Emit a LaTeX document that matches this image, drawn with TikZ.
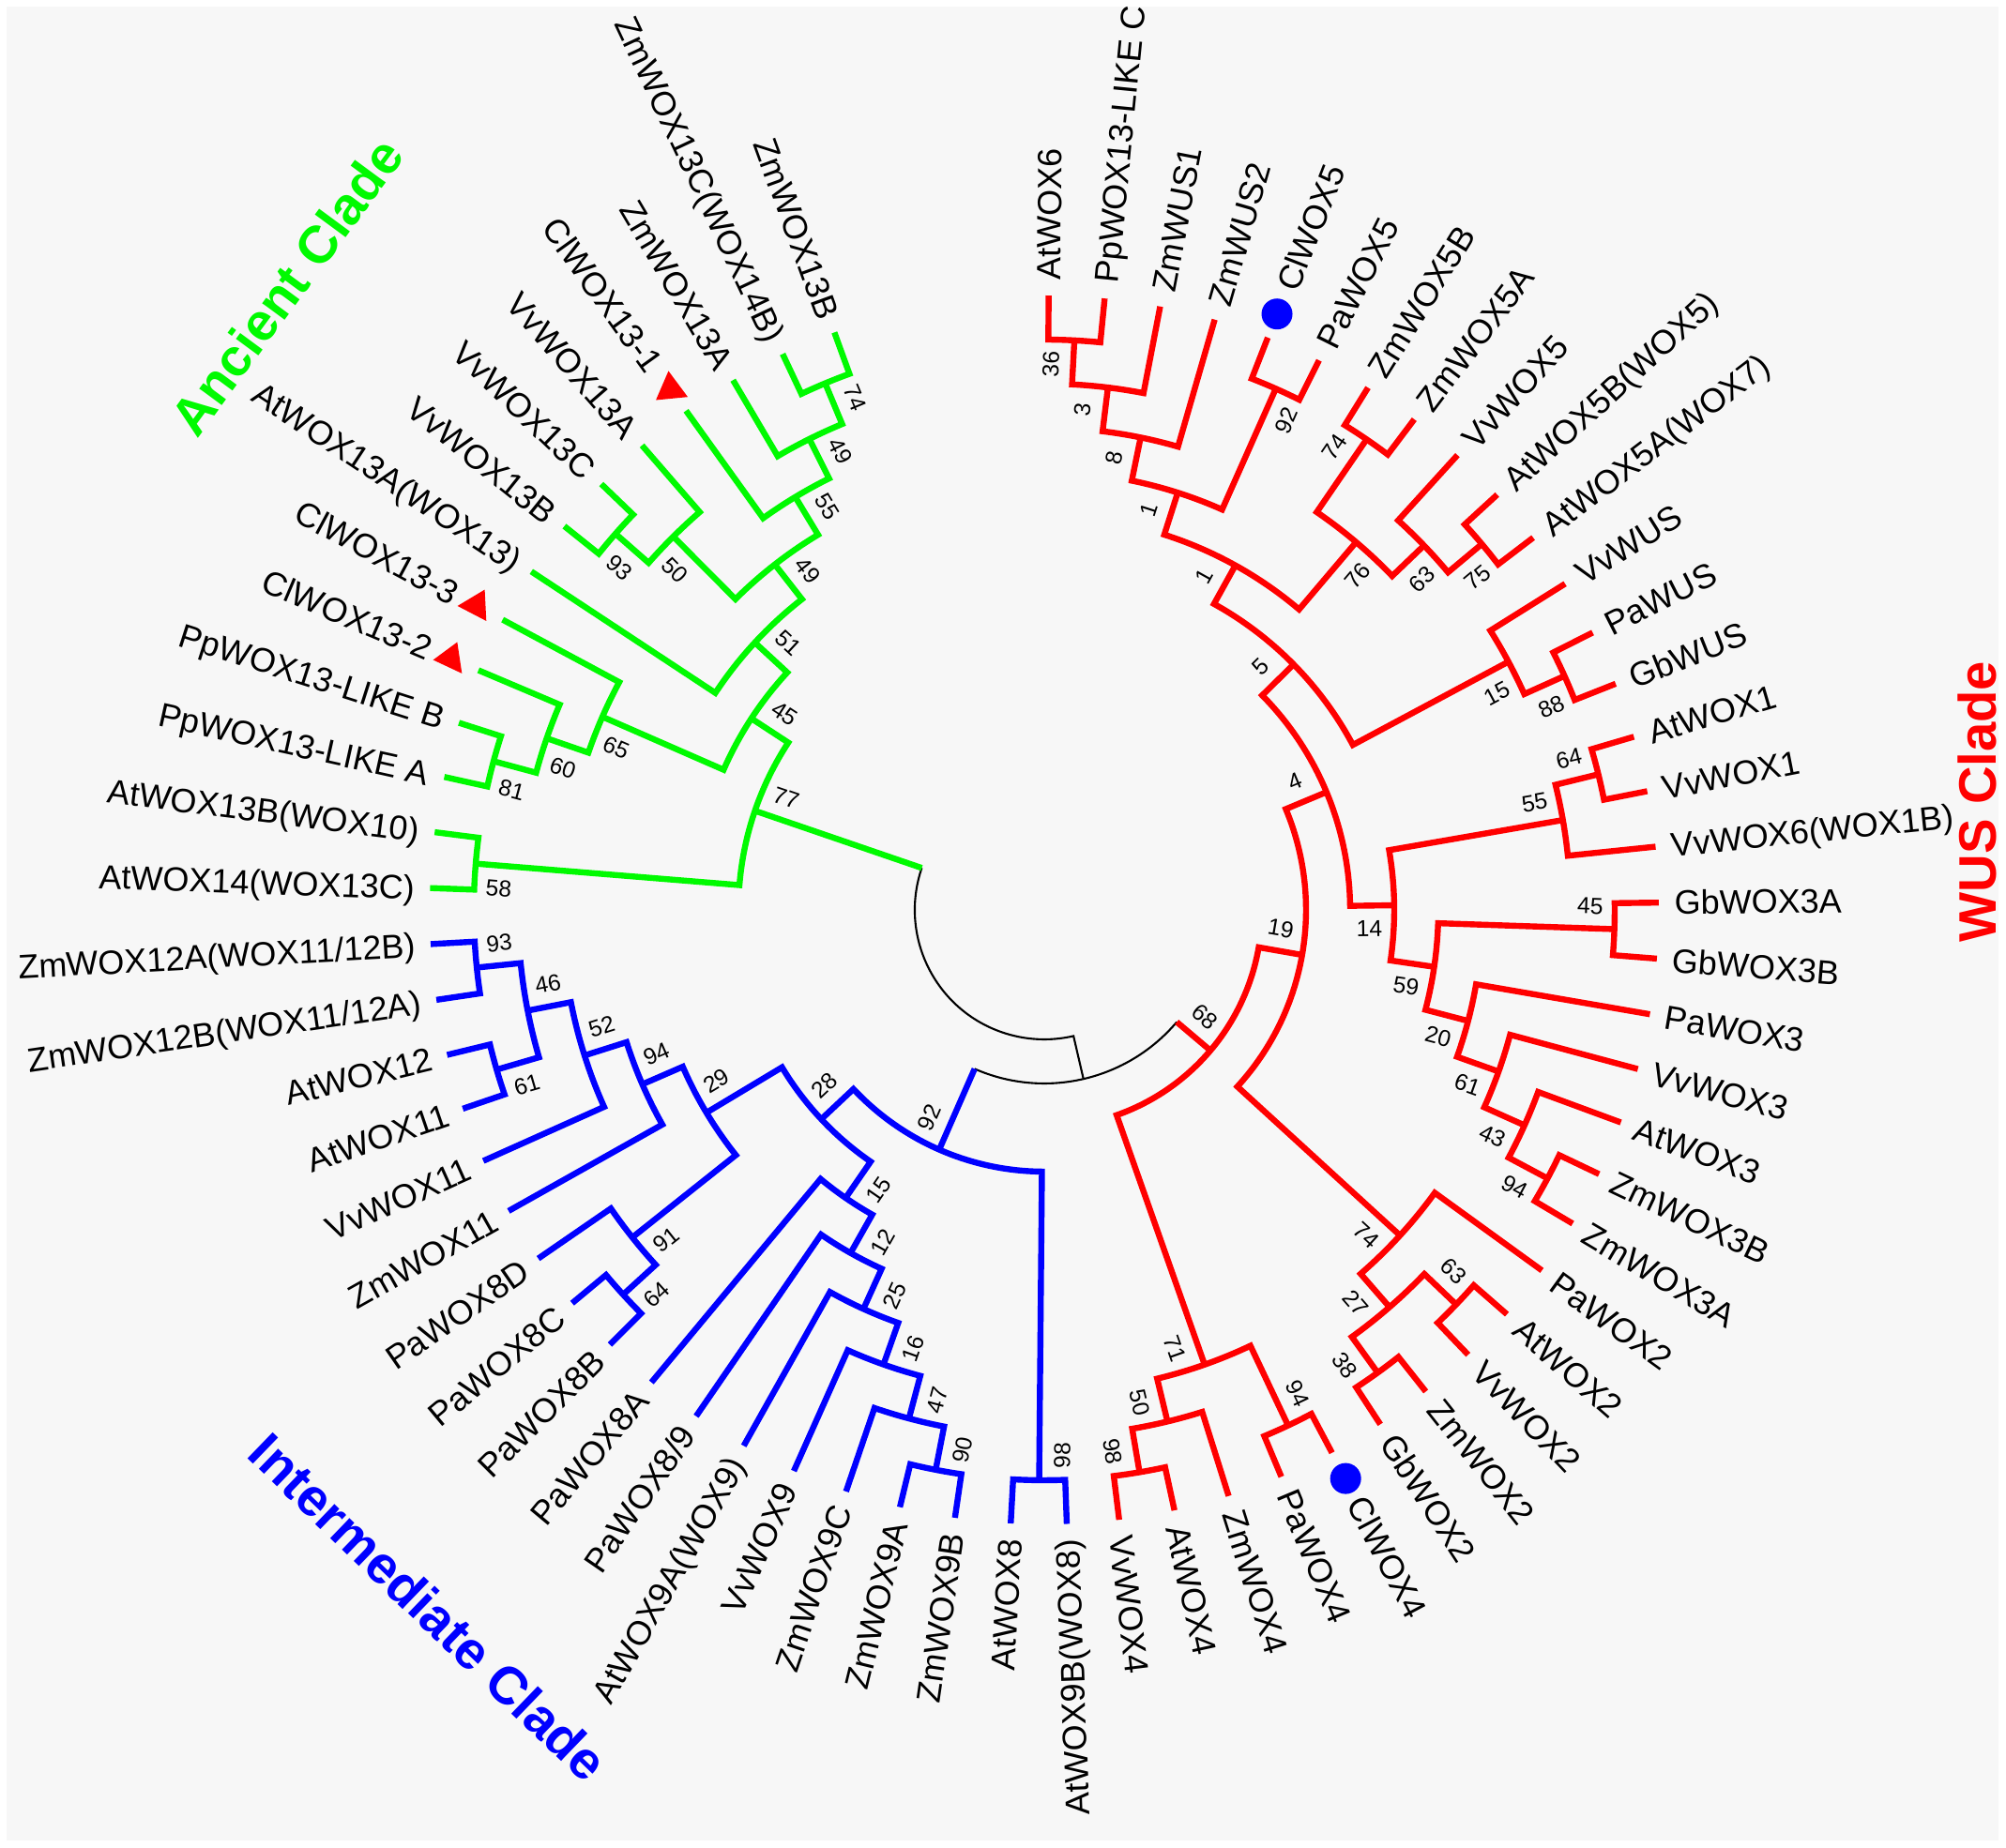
\documentclass[tikz,border=0pt]{standalone}
\usepackage{fontspec}
\setmainfont{Liberation Sans}
\definecolor{cgreen}{RGB}{0,250,0}
\definecolor{cred}{RGB}{255,0,0}
\definecolor{cblue}{RGB}{0,0,255}
\definecolor{bgg}{RGB}{247,247,247}
\tikzset{
  branch/.style={line width=0.064cm, line join=miter},
  rootline/.style={line width=0.6pt, draw=black},
  leaflab/.style={font=\fontsize{10.25}{12}\selectfont, inner sep=0pt, text height=7.35pt, text depth=0pt},
  bslab/.style={font=\fontsize{7}{8}\selectfont, inner sep=0pt, text height=5pt, text depth=0pt, anchor=center},
  cladelab/.style={font=\bfseries\fontsize{16}{19}\selectfont, inner sep=0pt, text height=11.5pt, text depth=0pt, anchor=center},
}
\newcommand\GetA[1]{\csname wA-#1\endcsname}
\newcommand\GetR[1]{\csname wR-#1\endcsname}
\def\wside{1}
% leaf: id, index, text, marker (0 none, 1 triangle, 2 circle)
\newcommand\Leaf[4]{%
  \pgfmathsetmacro\wxa{(#2<32) ? (272.1-5.23*#2) : (256.95-5.23*#2)}%
  \expandafter\xdef\csname wA-#1\endcsname{\wxa}%
  \expandafter\xdef\csname wR-#1\endcsname{6.55}%
  \expandafter\xdef\csname wH-#1\endcsname{0}%
  \pgfmathsetmacro\wlr{(#4>0) ? 7.10 : 6.71}%
  \ifnum#2<32\relax
    \pgfmathsetmacro\wlrot{\wxa-180}%
    \node[leaflab, rotate=\wlrot, anchor=east] (#1) at (\wxa:\wlr) {#3};%
  \else
    \node[leaflab, rotate=\wxa, anchor=west] (#1) at (\wxa:\wlr) {#3};%
  \fi}
\newcommand\PutLab[2]{%
  \ifnum\csname wH-#1\endcsname=1\relax
    \pgfmathsetmacro\wla{\GetA{#1}}%
    \pgfmathsetmacro\wlo{\GetA{#2}}%
    \pgfmathsetmacro\wlr{\GetR{#1}-0.26}%
    \pgfmathsetmacro\wlp{\wla+((\wla>\wlo)?1:-1)*deg(0.24/\wlr)}%
    \pgfmathsetmacro\wlrot{(\wside>0) ? \wla : \wla-180}%
    \node[bslab, rotate=\wlrot] (lab-#1) at (\wlp:\wlr) {\csname wL-#1\endcsname};%
  \fi}
% clade: name, child a, child b, level, colour, bootstrap
\newcommand\Clade[6]{%
  \pgfmathsetmacro\wxa{\GetA{#2}}%
  \pgfmathsetmacro\wxb{\GetA{#3}}%
  \pgfmathsetmacro\wra{\GetR{#2}}%
  \pgfmathsetmacro\wrb{\GetR{#3}}%
  \pgfmathsetmacro\wrn{6.55-0.47*#4}%
  \pgfmathsetmacro\wan{(\wxa+\wxb)/2}%
  \expandafter\xdef\csname wA-#1\endcsname{\wan}%
  \expandafter\xdef\csname wR-#1\endcsname{\wrn}%
  \expandafter\xdef\csname wH-#1\endcsname{1}%
  \expandafter\gdef\csname wL-#1\endcsname{#6}%
  \draw[branch,#5] (\wxa:\wra) -- (\wxa:\wrn) arc[start angle=\wxa, end angle=\wxb, radius=\wrn] -- (\wxb:\wrb);
  \PutLab{#2}{#3}\PutLab{#3}{#2}%
}
\begin{document}
\begin{tikzpicture}
\useasboundingbox (-11.13,-10.00) rectangle (10.25,9.70);
\fill[white] (-11.13,-10.00) rectangle (10.25,9.70);
\fill[bgg] (-11.06,-9.92) rectangle (10.17,9.63);

% ---------- leaves ----------
\Leaf{L0}{0}{AtWOX9B(WOX8)}{0}
\Leaf{L1}{1}{AtWOX8}{0}
\Leaf{L2}{2}{ZmWOX9B}{0}
\Leaf{L3}{3}{ZmWOX9A}{0}
\Leaf{L4}{4}{ZmWOX9C}{0}
\Leaf{L5}{5}{VvWOX9}{0}
\Leaf{L6}{6}{AtWOX9A(WOX9)}{0}
\Leaf{L7}{7}{PaWOX8/9}{0}
\Leaf{L8}{8}{PaWOX8A}{0}
\Leaf{L9}{9}{PaWOX8B}{0}
\Leaf{L10}{10}{PaWOX8C}{0}
\Leaf{L11}{11}{PaWOX8D}{0}
\Leaf{L12}{12}{ZmWOX11}{0}
\Leaf{L13}{13}{VvWOX11}{0}
\Leaf{L14}{14}{AtWOX11}{0}
\Leaf{L15}{15}{AtWOX12}{0}
\Leaf{L16}{16}{ZmWOX12B(WOX11/12A)}{0}
\Leaf{L17}{17}{ZmWOX12A(WOX11/12B)}{0}
\Leaf{L18}{18}{AtWOX14(WOX13C)}{0}
\Leaf{L19}{19}{AtWOX13B(WOX10)}{0}
\Leaf{L20}{20}{PpWOX13-LIKE A}{0}
\Leaf{L21}{21}{PpWOX13-LIKE B}{0}
\Leaf{L22}{22}{ClWOX13-2}{1}
\Leaf{L23}{23}{ClWOX13-3}{1}
\Leaf{L24}{24}{AtWOX13A(WOX13)}{0}
\Leaf{L25}{25}{VvWOX13B}{0}
\Leaf{L26}{26}{VvWOX13C}{0}
\Leaf{L27}{27}{VvWOX13A}{0}
\Leaf{L28}{28}{ClWOX13-1}{1}
\Leaf{L29}{29}{ZmWOX13A}{0}
\Leaf{L30}{30}{ZmWOX13C(WOX14B)}{0}
\Leaf{L31}{31}{ZmWOX13B}{0}
\Leaf{L32}{32}{AtWOX6}{0}
\Leaf{L33}{33}{PpWOX13-LIKE C}{0}
\Leaf{L34}{34}{ZmWUS1}{0}
\Leaf{L35}{35}{ZmWUS2}{0}
\Leaf{L36}{36}{ClWOX5}{2}
\Leaf{L37}{37}{PaWOX5}{0}
\Leaf{L38}{38}{ZmWOX5B}{0}
\Leaf{L39}{39}{ZmWOX5A}{0}
\Leaf{L40}{40}{VvWOX5}{0}
\Leaf{L41}{41}{AtWOX5B(WOX5)}{0}
\Leaf{L42}{42}{AtWOX5A(WOX7)}{0}
\Leaf{L43}{43}{VvWUS}{0}
\Leaf{L44}{44}{PaWUS}{0}
\Leaf{L45}{45}{GbWUS}{0}
\Leaf{L46}{46}{AtWOX1}{0}
\Leaf{L47}{47}{VvWOX1}{0}
\Leaf{L48}{48}{VvWOX6(WOX1B)}{0}
\Leaf{L49}{49}{GbWOX3A}{0}
\Leaf{L50}{50}{GbWOX3B}{0}
\Leaf{L51}{51}{PaWOX3}{0}
\Leaf{L52}{52}{VvWOX3}{0}
\Leaf{L53}{53}{AtWOX3}{0}
\Leaf{L54}{54}{ZmWOX3B}{0}
\Leaf{L55}{55}{ZmWOX3A}{0}
\Leaf{L56}{56}{PaWOX2}{0}
\Leaf{L57}{57}{AtWOX2}{0}
\Leaf{L58}{58}{VvWOX2}{0}
\Leaf{L59}{59}{ZmWOX2}{0}
\Leaf{L60}{60}{GbWOX2}{0}
\Leaf{L61}{61}{ClWOX4}{2}
\Leaf{L62}{62}{PaWOX4}{0}
\Leaf{L63}{63}{ZmWOX4}{0}
\Leaf{L64}{64}{AtWOX4}{0}
\Leaf{L65}{65}{VvWOX4}{0}

% ---------- intermediate clade (blue) ----------
\def\wside{-1}
\Clade{nb98}{L0}{L1}{1}{cblue}{98}
\Clade{nb90}{L3}{L2}{1}{cblue}{90}
\Clade{nb47}{L4}{nb90}{2}{cblue}{47}
\Clade{nb16}{L5}{nb47}{3}{cblue}{16}
\Clade{nb25}{L6}{nb16}{4}{cblue}{25}
\Clade{nb12}{L7}{nb25}{5}{cblue}{12}
\Clade{nb15}{L8}{nb12}{6}{cblue}{15}
\Clade{nb64}{L10}{L9}{1}{cblue}{64}
\Clade{nb91}{L11}{nb64}{2}{cblue}{91}
\Clade{nb93}{L17}{L16}{1}{cblue}{93}
\Clade{nb61}{L15}{L14}{1}{cblue}{61}
\Clade{nb46}{nb93}{nb61}{2}{cblue}{46}
\Clade{nb52}{nb46}{L13}{3}{cblue}{52}
\Clade{nb94}{nb52}{L12}{4}{cblue}{94}
\Clade{nb29}{nb94}{nb91}{5}{cblue}{29}
\Clade{nb28}{nb29}{nb15}{7}{cblue}{28}
\Clade{nb92}{nb28}{nb98}{8}{cblue}{92}

% ---------- ancient clade (green) ----------
\def\wside{-1}
\Clade{ng74}{L31}{L30}{1}{cgreen}{74}
\Clade{ng49a}{ng74}{L29}{2}{cgreen}{49}
\Clade{ng55}{ng49a}{L28}{3}{cgreen}{55}
\Clade{ng93}{L25}{L26}{1}{cgreen}{93}
\Clade{ng50}{ng93}{L27}{2}{cgreen}{50}
\Clade{ng49b}{ng55}{ng50}{4}{cgreen}{49}
\Clade{ng51}{L24}{ng49b}{5}{cgreen}{51}
\Clade{ng81}{L20}{L21}{1}{cgreen}{81}
\Clade{ng60}{ng81}{L22}{2}{cgreen}{60}
\Clade{ng65}{ng60}{L23}{3}{cgreen}{65}
\Clade{ng45}{ng51}{ng65}{6}{cgreen}{45}
\Clade{ng58}{L18}{L19}{1}{cgreen}{58}
\Clade{ng77}{ng45}{ng58}{7}{cgreen}{77}

% ---------- WUS clade (red) ----------
\def\wside{1}
\Clade{nr36}{L32}{L33}{1}{cred}{36}
\Clade{nr3}{nr36}{L34}{2}{cred}{3}
\Clade{nr8}{nr3}{L35}{3}{cred}{8}
\Clade{nr92}{L36}{L37}{1}{cred}{92}
\Clade{nr1a}{nr8}{nr92}{4}{cred}{1}
\Clade{nr74}{L38}{L39}{1}{cred}{74}
\Clade{nr75}{L41}{L42}{1}{cred}{75}
\Clade{nr63}{L40}{nr75}{2}{cred}{63}
\Clade{nr76}{nr74}{nr63}{3}{cred}{76}
\Clade{nr1b}{nr1a}{nr76}{5}{cred}{1}
\Clade{nr88}{L44}{L45}{1}{cred}{88}
\Clade{nr15}{L43}{nr88}{2}{cred}{15}
\Clade{nr5}{nr1b}{nr15}{6}{cred}{5}
\Clade{nr64}{L46}{L47}{1}{cred}{64}
\Clade{nr55}{nr64}{L48}{2}{cred}{55}
\Clade{nr45}{L49}{L50}{1}{cred}{45}
\Clade{nr94}{L54}{L55}{1}{cred}{94}
\Clade{nr43}{L53}{nr94}{2}{cred}{43}
\Clade{nr61}{L52}{nr43}{3}{cred}{61}
\Clade{nr20}{L51}{nr61}{4}{cred}{20}
\Clade{nr59}{nr45}{nr20}{5}{cred}{59}
\Clade{nr14}{nr55}{nr59}{6}{cred}{14}
\Clade{nr4}{nr5}{nr14}{7}{cred}{4}
\Clade{nr63b}{L57}{L58}{1}{cred}{63}
\Clade{nr38}{L59}{L60}{1}{cred}{38}
\Clade{nr27}{nr63b}{nr38}{2}{cred}{27}
\Clade{nr74b}{L56}{nr27}{3}{cred}{74}
\Clade{nr19}{nr4}{nr74b}{8}{cred}{19}
\Clade{nr98}{L65}{L64}{1}{cred}{98}
\Clade{nr50}{nr98}{L63}{2}{cred}{50}
\Clade{nr94b}{L62}{L61}{1}{cred}{94}
\Clade{nr71}{nr50}{nr94b}{3}{cred}{71}
\Clade{nr68}{nr19}{nr71}{9}{cred}{68}

% ---------- root ----------
\pgfmathsetmacro\wgA{\GetA{ng77}}
\pgfmathsetmacro\wbA{\GetA{nb92}}
\pgfmathsetmacro\wrA{\GetA{nr68}+360}
\pgfmathsetmacro\wxA{(\wbA+\wrA)/2}
\draw[rootline] (\wgA:1.38) arc[start angle=\wgA, end angle=\wxA, radius=1.38] -- (\wxA:1.85);
\draw[rootline] (\wbA:1.85) arc[start angle=\wbA, end angle=\wrA, radius=1.85];
\draw[branch,cgreen] (\wgA:1.38) -- (\wgA:3.26);
\draw[branch,cblue] (\wbA:1.85) -- (\wbA:2.79);
\draw[branch,cred] (\wrA:1.85) -- (\wrA:2.32);
\pgfmathsetmacro\wp{\wgA-deg(0.24/3.0)}
\pgfmathsetmacro\wq{\wgA-180}
\node[bslab, rotate=\wq] (lab-ng77) at (\wp:3.0) {77};
\pgfmathsetmacro\wp{\wbA-deg(0.24/2.53)}
\pgfmathsetmacro\wq{\wbA-180}
\node[bslab, rotate=\wq] (lab-nb92) at (\wp:2.53) {92};
\pgfmathsetmacro\wp{\wrA+deg(0.24/2.06)}
\node[bslab, rotate=\wrA] (lab-nr68) at (\wp:2.06) {68};

% ---------- markers ----------
\pgfmathsetmacro\wt{\GetA{L28}}
\begin{scope}[shift={(\wt:6.83)}]
  \fill[cred] (-0.024,0.196) -- (-0.158,-0.114) -- (0.182,-0.081) -- cycle;
\end{scope}
\pgfmathsetmacro\wt{\GetA{L22}}
\begin{scope}[shift={(\wt:6.87)}]
  \fill[cred] (-0.188,-0.015) -- (0.069,0.175) -- (0.119,-0.159) -- cycle;
\end{scope}
\pgfmathsetmacro\wt{\GetA{L23}}
\begin{scope}[shift={(\wt:6.87)}]
  \fill[cred] (-0.199,-0.005) -- (0.091,0.169) -- (0.108,-0.165) -- cycle;
\end{scope}
\pgfmathsetmacro\wt{\GetA{L36}}
\fill[cblue] (\wt:6.82) circle[radius=0.165];
\pgfmathsetmacro\wt{\GetA{L61}}
\fill[cblue] (\wt:6.86) circle[radius=0.165];

% ---------- clade names ----------
\node[cladelab, text=cgreen, rotate=53.6] (ancient) at (-8.076,6.648) {Ancient Clade};
\node[cladelab, text=cred, rotate=90] (wus) at (9.94,1.153) {WUS Clade};
\node[cladelab, text=cblue, rotate=-44] (inter) at (-6.561,-7.432) {Intermediate Clade};
\end{tikzpicture}
\end{document}
